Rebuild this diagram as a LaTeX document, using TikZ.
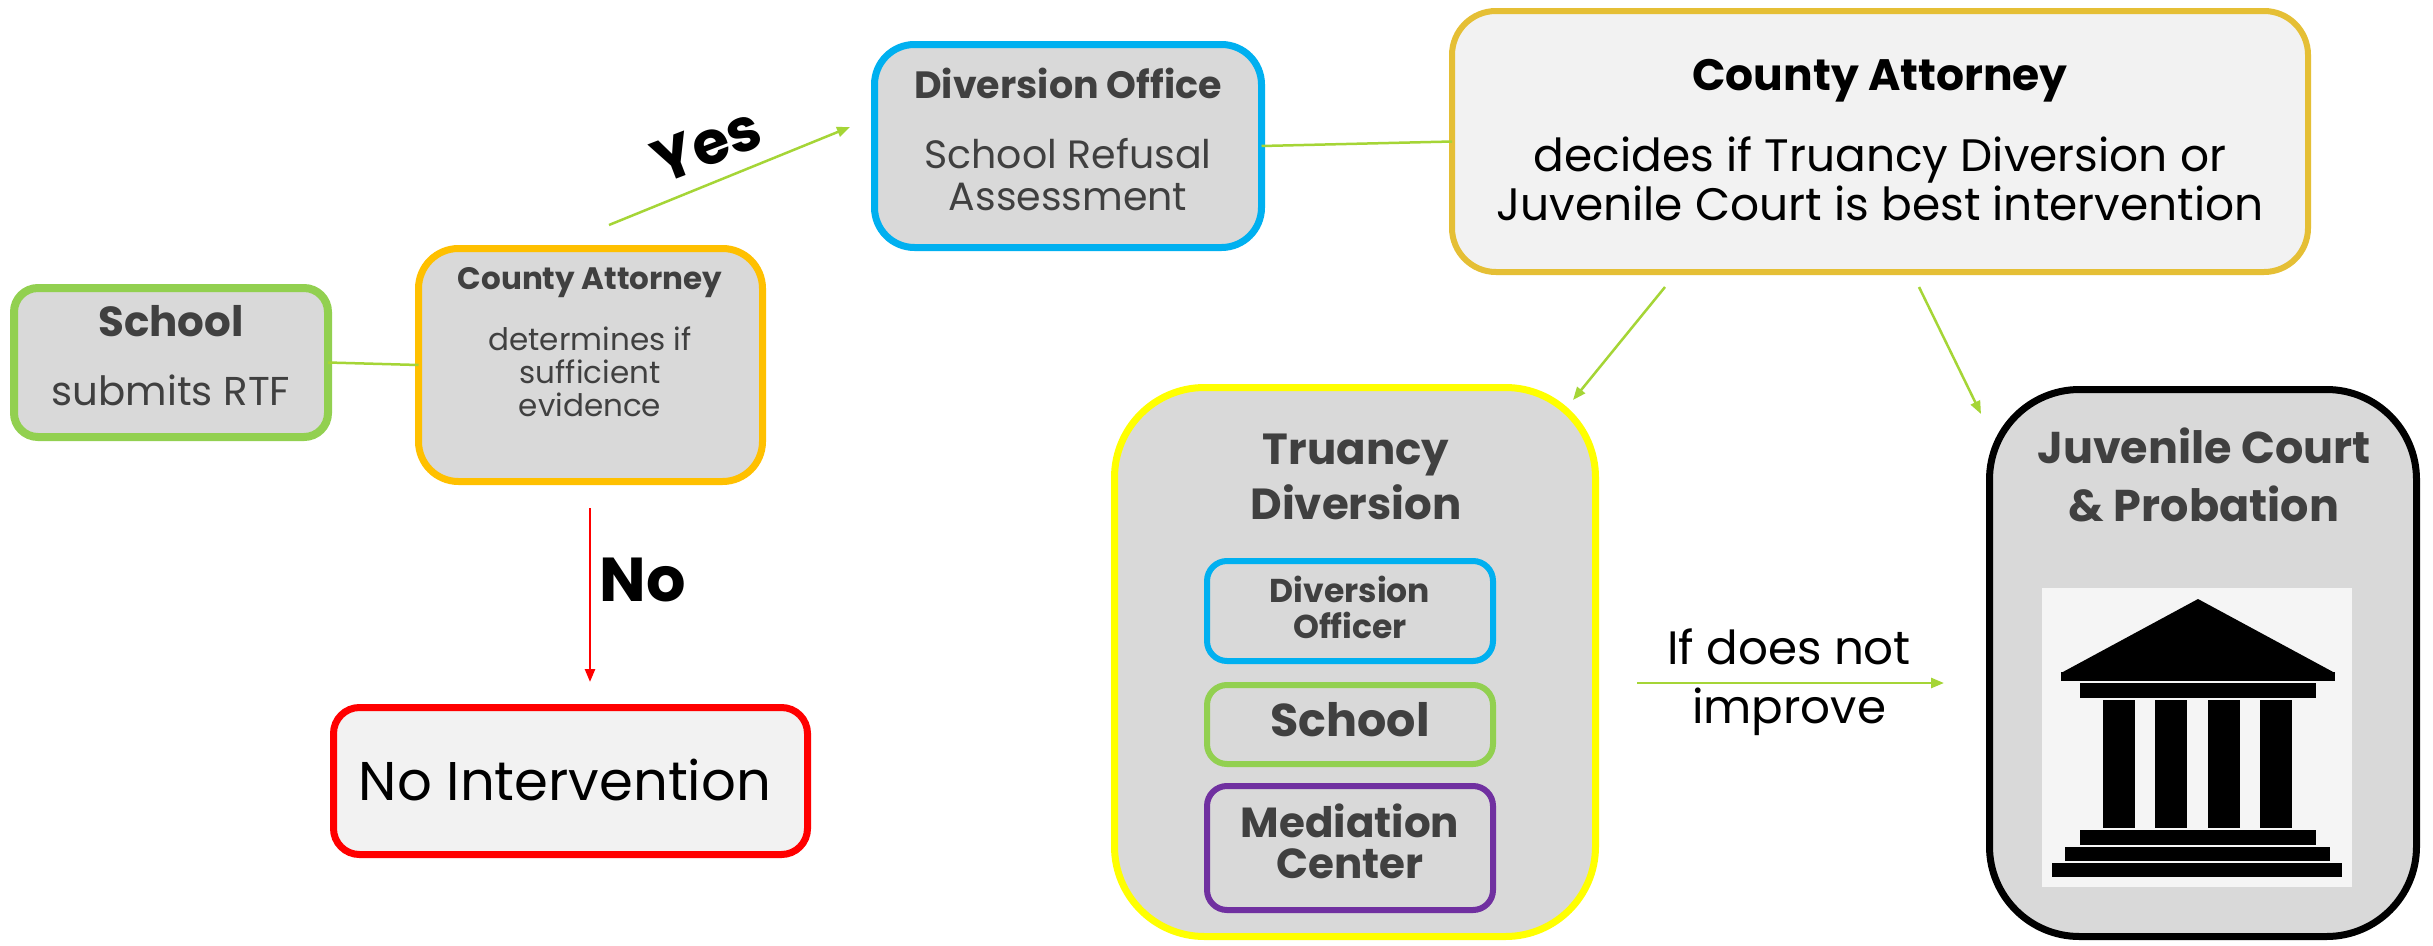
\documentclass[tikz,border=0pt]{standalone}
\usepackage{fontspec}
\setmainfont{Poppins}
\usetikzlibrary{arrows.meta}
\definecolor{cGreen}{HTML}{92D050}
\definecolor{cOrange}{HTML}{FFC000}
\definecolor{cBlue}{HTML}{00B0F0}
\definecolor{cGold}{HTML}{E5BF35}
\definecolor{cRed}{HTML}{FF0000}
\definecolor{cYellow}{HTML}{FFFF00}
\definecolor{cPurple}{HTML}{7030A0}
\definecolor{cGray}{HTML}{D9D9D9}
\definecolor{cLight}{HTML}{F2F2F2}
\definecolor{cIconBg}{HTML}{F5F5F5}
\definecolor{cText}{HTML}{404040}
\definecolor{cLine}{HTML}{A5D536}
\begin{document}
\begin{tikzpicture}[x=1pt,y=-1pt,
  shapebox/.style={draw, inner sep=0pt, outer sep=0pt, fill=cGray},
  txt/.style={inner sep=0pt, outer sep=0pt, align=center, text=cText},
  conn/.style={draw=cLine, line width=2.5pt},
  arr/.style={conn, -{Triangle[length=13pt,width=10pt]}},
  fs/.style 2 args={font=\fontsize{#1}{#2}\selectfont},
  fsb/.style 2 args={font=\fontsize{#1}{#2}\selectfont\bfseries}
]
\fill[white] (0,0) rectangle (2433,945);
\useasboundingbox (0,0) rectangle (2433,945);

% ---- boxes
\node[shapebox, draw=cGreen, line width=8pt, rounded corners=24pt,
  minimum width=314pt, minimum height=149pt] (school) at (171,362.5) {};
\node[shapebox, draw=cOrange, line width=7pt, rounded corners=40pt,
  minimum width=344pt, minimum height=233pt] (caS) at (590.5,365) {};
\node[shapebox, draw=cBlue, line width=7pt, rounded corners=40pt,
  minimum width=387pt, minimum height=203pt] (divO) at (1068,146) {};
\node[shapebox, draw=cGold, fill=cLight, line width=6pt, rounded corners=44pt,
  minimum width=856pt, minimum height=261pt] (caB) at (1880,141.5) {};
\node[shapebox, draw=cRed, fill=cLight, line width=7pt, rounded corners=26pt,
  minimum width=474pt, minimum height=147pt] (noI) at (570.5,781) {};
\node[shapebox, draw=cYellow, line width=7pt, rounded corners=90pt,
  minimum width=481pt, minimum height=549pt] (truancy) at (1355,662) {};
\node[shapebox, draw=black, line width=7pt, rounded corners=90pt,
  minimum width=427pt, minimum height=547pt] (court) at (2203,663) {};
\node[shapebox, draw=cBlue, line width=6pt, rounded corners=20pt,
  minimum width=286pt, minimum height=100pt] (divOff) at (1350,611) {};
\node[shapebox, draw=cGreen, line width=6pt, rounded corners=20pt,
  minimum width=286pt, minimum height=79pt] (schoolIn) at (1350,724.5) {};
\node[shapebox, draw=cPurple, line width=6pt, rounded corners=20pt,
  minimum width=286pt, minimum height=124pt] (med) at (1350,848) {};

% ---- texts
\node[txt, fsb={42}{42}] (schoolT) at (171,321) {School};
\node[txt, fs={40.3}{40}] (schoolB) at (171,390) {submits RTF};
\node[txt, fsb={31}{31}] (caST) at (590,283) {County Attorney};
\node[txt, fs={31}{33}] (caSB) at (590,372) {determines if\\sufficient\\evidence};
\node[txt, fsb={38}{38}] (divOT) at (1068,83) {Diversion Office};
\node[txt, fs={39.5}{42}] (divOB) at (1068,175) {School Refusal\\Assessment};
\node[txt, text=black, fsb={44}{44}] (caBT) at (1880,81) {County Attorney};
\node[txt, text=black, fs={45.5}{49}] (caBB) at (1880,178.5) {decides if Truancy Diversion or\\Juvenile Court is best intervention};
\node[txt, text=black, fs={54.5}{55}] (noIT) at (565,780) {No Intervention};
\node[txt, fsb={43.5}{55}] (truT) at (1356,476.5) {Truancy\\Diversion};
\node[txt, fsb={33}{36}] (divOffT) at (1350,607) {Diversion\\Officer};
\node[txt, fsb={46}{46}] (schoolInT) at (1350,720) {School};
\node[txt, fsb={42}{41}] (medT) at (1350,841.5) {Mediation\\Center};
\node[txt, fsb={44.5}{58}] (courtT) at (2204,475) {Juvenile Court\\\& Probation};

% ---- court icon
\fill[cIconBg] (2042,588) rectangle (2352,887);
\fill[black] (2061,673) -- (2198,599) -- (2335,673) -- cycle;
\fill[black] (2061,672) rectangle (2335,681);
\fill[black] (2080,683) rectangle (2316,698);
\foreach \cx in {2103,2155,2208,2260}{\fill[black] (\cx,700) rectangle (\cx+32,828);}
\fill[black] (2080,830) rectangle (2316,845);
\fill[black] (2065,847) rectangle (2330,861);
\fill[black] (2052,863) rectangle (2342,877);

% ---- connectors
\coordinate (yesS) at (609,225);
\coordinate (yesE) at (850,127);
\coordinate (noS) at (590,508);
\coordinate (noE) at (590,682);
\coordinate (truS) at (1665,287);
\coordinate (truE) at (1573,400);
\coordinate (crtS) at (1919,287);
\coordinate (crtE) at (1981,414);
\coordinate (ifS) at (1637,683);
\coordinate (ifE) at (1944,683);

\draw[conn] (school.east) -- (caS.west);
\draw[arr] (yesS) -- (yesE);
\draw[conn] (divO.east) -- (caB.west);
\draw[arr] (truS) -- (truE);
\draw[arr] (crtS) -- (crtE);
\draw[arr] (ifS) -- (ifE);
\draw[cRed, line width=2.5pt, -{Triangle[length=13pt,width=10pt]}] (noS) -- (noE);

\node[inner sep=0pt, fsb={60}{60}, rotate=21] (yesL) at (707,145) {Yes};
\node[inner sep=0pt, fsb={62}{62}] (noL) at (643,580) {No};
\node[inner sep=0pt, align=center, fs={46.8}{59}] (ifL) at (1789,682.5) {If does not\\improve};
\end{tikzpicture}
\end{document}
